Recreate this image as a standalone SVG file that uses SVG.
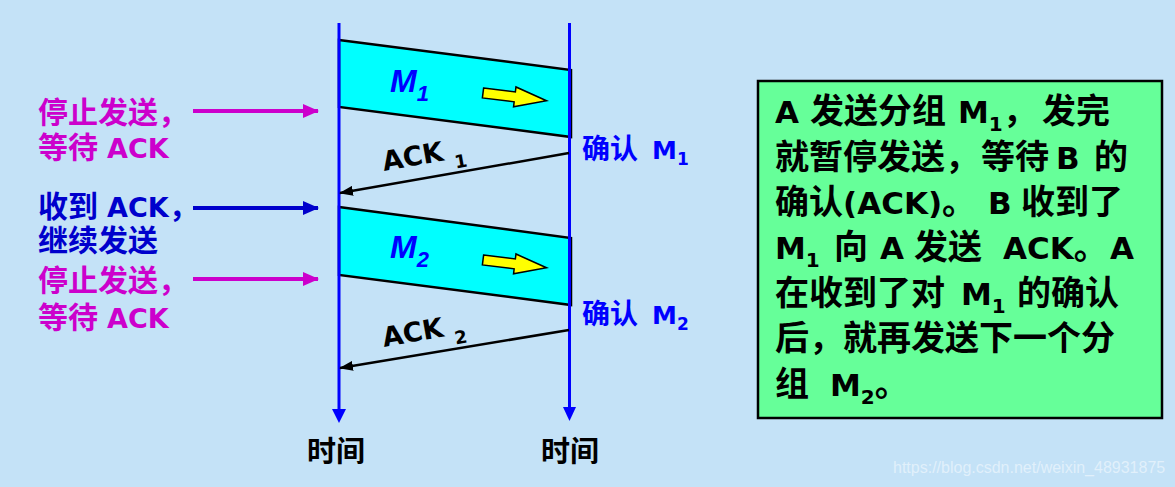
<svg xmlns="http://www.w3.org/2000/svg" width="1175" height="487" viewBox="0 0 1175 487">
<style>
.cjk{font-family:"Noto Sans CJK SC","Noto Sans CJK JP",sans-serif;font-weight:700}
.lat{font-family:"DejaVu Sans","Noto Sans CJK SC",sans-serif;font-weight:700}
.mag{fill:#cc00cc}
.blu{fill:#0000cc}
.bri{fill:#0000ff}
.blk{fill:#000000}
.band{fill:#00ffff;stroke:#000000;stroke-width:2.5;stroke-linejoin:miter}
.yarrow{fill:#ffff00;stroke:#000000;stroke-width:1.5}
.tl{stroke:#0000ff;stroke-width:3;fill:none}
.tlh{fill:#0000ff}
.ack{stroke:#000000;stroke-width:2.5;fill:none}
.ind{stroke-width:4;fill:none}
.mlab{font-family:"Liberation Sans",Arial,sans-serif;font-weight:700;font-style:italic;fill:#0000ff}
</style>
<defs>
<marker id="ackhead" markerUnits="userSpaceOnUse" viewBox="0 0 14 10" refX="13" refY="5" markerWidth="14" markerHeight="10" orient="auto"><path d="M0,0 L14,5 L0,10 z" fill="#000000"/></marker>
<marker id="maghead" markerUnits="userSpaceOnUse" viewBox="0 0 16 14" refX="15" refY="7" markerWidth="16" markerHeight="14" orient="auto"><path d="M0,0 L16,7 L0,14 z" fill="#cc00cc"/></marker>
<marker id="bluhead" markerUnits="userSpaceOnUse" viewBox="0 0 16 14" refX="15" refY="7" markerWidth="16" markerHeight="14" orient="auto"><path d="M0,0 L16,7 L0,14 z" fill="#0000cc"/></marker>
</defs>
<rect x="0" y="0" width="1175" height="487" fill="#c4e2f7"/>

<g id="band-m1">
<polygon class="band" points="339,40 571,70 571,137 339,107"/>
<text class="mlab" x="390" y="92" font-size="32">M<tspan font-size="22" dy="9">1</tspan></text>
<polygon class="yarrow" transform="translate(483,93) rotate(7)" points="0,-5 32,-5 32,-10 64,0 32,10 32,5 0,5"/>
</g>
<g id="band-m2">
<polygon class="band" points="339,207 571,238 571,305 339,275"/>
<text class="mlab" x="390" y="258" font-size="32">M<tspan font-size="22" dy="9">2</tspan></text>
<polygon class="yarrow" transform="translate(483,260) rotate(7)" points="0,-5 32,-5 32,-10 64,0 32,10 32,5 0,5"/>
</g>

<g id="timeline-a">
<line class="tl" x1="339" y1="23" x2="339" y2="411"/>
<polygon class="tlh" points="332,409 346,409 339,423"/>
<text class="cjk blk" x="307" y="462" font-size="29">时间</text>
</g>
<g id="timeline-b">
<line class="tl" x1="569.5" y1="23" x2="569.5" y2="409"/>
<polygon class="tlh" points="563,407 576,407 569.5,421"/>
<text class="cjk blk" x="541" y="462" font-size="29">时间</text>
</g>

<g id="label-stop1">
<text class="cjk mag" x="38" y="123" font-size="30">停止发送，</text>
<text class="cjk mag" x="38" y="158" font-size="30">等待<tspan class="lat" x="107" font-size="27">ACK</tspan></text>
</g>
<g id="label-recv">
<text class="cjk blu" x="38" y="217" font-size="30">收到<tspan class="lat" x="107" font-size="27">ACK</tspan>，</text>
<text class="cjk blu" x="38" y="251" font-size="30">继续发送</text>
</g>
<g id="label-stop2">
<text class="cjk mag" x="38" y="291" font-size="30">停止发送，</text>
<text class="cjk mag" x="38" y="328" font-size="30">等待<tspan class="lat" x="107" font-size="27">ACK</tspan></text>
</g>

<g id="label-confirm1">
<text class="cjk bri" x="582" y="159" font-size="28">确认<tspan class="lat" x="652" font-size="25">M</tspan><tspan class="lat" font-size="17" dy="6">1</tspan></text>
</g>
<g id="label-confirm2">
<text class="cjk bri" x="582" y="324" font-size="28">确认<tspan class="lat" x="652" font-size="25">M</tspan><tspan class="lat" font-size="17" dy="6">2</tspan></text>
</g>

<g id="note-box">
<rect x="758" y="81" width="404" height="337" fill="#66ff99" stroke="#000000" stroke-width="2.5"/>
<g class="cjk blk" font-size="34">
<text y="123"><tspan class="lat" x="775" font-size="31">A</tspan><tspan x="810">发送分组</tspan><tspan class="lat" x="958" font-size="31">M</tspan><tspan class="lat" font-size="20" dy="8">1</tspan><tspan dy="-8">，</tspan><tspan x="1042">发完</tspan></text>
<text y="169"><tspan x="775">就暂停发送，</tspan><tspan x="981">等待</tspan><tspan class="lat" x="1056" font-size="31">B</tspan><tspan x="1094">的</tspan></text>
<text y="214"><tspan x="775">确认</tspan><tspan class="lat" x="843" font-size="31">(ACK)</tspan><tspan>。</tspan><tspan class="lat" x="988" font-size="31">B</tspan><tspan x="1021">收到了</tspan></text>
<text y="259"><tspan class="lat" x="775" font-size="31">M</tspan><tspan class="lat" font-size="20" dy="8">1</tspan><tspan x="834" dy="-8">向</tspan><tspan class="lat" x="880" font-size="31">A</tspan><tspan x="914">发送</tspan><tspan class="lat" x="1003" font-size="31">ACK</tspan><tspan>。</tspan><tspan class="lat" x="1110" font-size="31">A</tspan></text>
<text y="305"><tspan x="775">在收到了对</tspan><tspan class="lat" x="961" font-size="31">M</tspan><tspan class="lat" font-size="20" dy="8">1</tspan><tspan x="1017" dy="-8">的确认</tspan></text>
<text y="350"><tspan x="775">后，就再发送下一个分</tspan></text>
<text y="396"><tspan x="775">组</tspan><tspan class="lat" x="830" font-size="31">M</tspan><tspan class="lat" font-size="20" dy="8">2</tspan><tspan dy="-8">。</tspan></text>
</g>
</g>

<g id="connectors">
<line class="ack" x1="569" y1="153" x2="340" y2="193" marker-end="url(#ackhead)"/>
<text class="lat blk" font-size="27" transform="translate(384,171) rotate(-10)">ACK<tspan font-size="18" x="71" dy="10">1</tspan></text>
<line class="ack" x1="569" y1="330" x2="340" y2="368" marker-end="url(#ackhead)"/>
<text class="lat blk" font-size="27" transform="translate(384,347) rotate(-10)">ACK<tspan font-size="18" x="71" dy="10">2</tspan></text>
<line class="ind" stroke="#cc00cc" x1="193" y1="111" x2="318" y2="111" marker-end="url(#maghead)"/>
<line class="ind" stroke="#0000cc" x1="193" y1="208" x2="318" y2="208" marker-end="url(#bluhead)"/>
<line class="ind" stroke="#cc00cc" x1="193" y1="279" x2="318" y2="279" marker-end="url(#maghead)"/>
</g>

<text x="893" y="473" font-family="Liberation Sans, Arial, sans-serif" font-size="16" fill="#ffffff" fill-opacity="0.5">https://blog.csdn.net/weixin_48931875</text>
</svg>
